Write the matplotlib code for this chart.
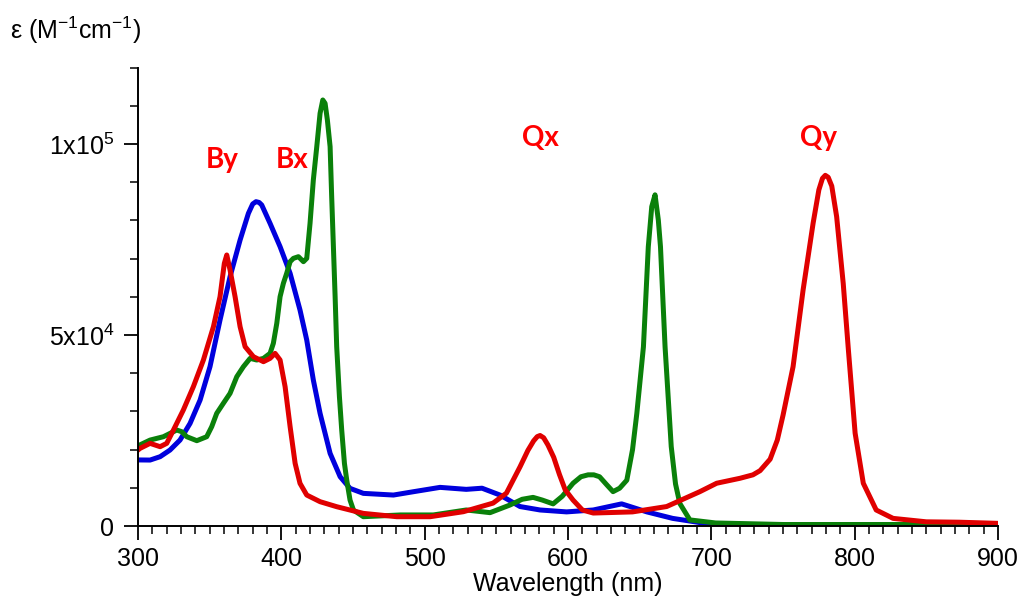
import matplotlib
matplotlib.use("Agg")
import matplotlib.pyplot as plt
import matplotlib.ticker as ticker

plt.rcParams['font.family'] = ['Liberation Sans', 'DejaVu Sans']
plt.rcParams['mathtext.fontset'] = 'custom'
plt.rcParams['mathtext.rm'] = 'Liberation Sans'
plt.rcParams['mathtext.it'] = 'Liberation Sans'

# blue spectrum (nm, M-1 cm-1)
blue_wl = [300, 308.4, 315.4, 322.3, 329.3, 336.3, 343.3, 350.2, 357.2, 364.2,
           371.2, 377.0, 380.0, 382.3, 384.5, 386.3, 392.1, 399.1, 406.1, 413.0,
           417.7, 422.3, 427.0, 434.0, 441.0, 447.9, 457.2, 478.2, 492.1, 510.7,
           529, 540, 552.6, 566.5, 580.5, 599, 617.6, 637.4, 655, 673, 692, 703,
           750, 800, 850, 900]
blue_eps = [17300, 17270, 18150, 19890, 22510, 26870, 32980, 41710, 53930, 65270,
            74870, 81850, 84300, 84910, 84700, 84040, 79240, 73130, 66150, 56550,
            48690, 38220, 29500, 19020, 12910, 9860, 8550, 8110, 8980, 10120,
            9600, 9900, 8100, 5100, 4200, 3700, 4200, 5800, 3700, 2000, 900, 500,
            300, 300, 300, 300]

# green spectrum
green_wl = [300, 308.4, 317.7, 327.0, 330.5, 334.0, 341.0, 347.9, 351.4, 354.9,
            359.5, 364.2, 368.9, 373.5, 378.2, 382.8, 387.5, 392.1, 394.4, 396.8,
            399.1, 401.4, 403.7, 406.1, 408.4, 411.9, 415.4, 417.7, 420.0, 422.3,
            424.7, 427.0, 428.9, 430.5, 432.1, 434.0, 435.1, 436.3, 437.5, 438.6,
            440.5, 442.1, 444.0, 445.6, 447.9, 450.3, 457.2, 483, 506, 529, 545.6,
            559.5, 568, 575.6, 582, 589.6, 596, 603.5, 609, 614, 618, 622, 627,
            631.4, 636, 641, 645, 648, 652.6, 656, 658.4, 660.7, 663, 664.5, 667.7,
            672, 675, 678, 685, 703, 750, 800, 900]
green_eps = [21000, 22500, 23380, 25130, 24690, 23380, 22340, 23380, 26000, 29500,
             32110, 34730, 39090, 41710, 43890, 43460, 43890, 45200, 47820, 53060,
             60040, 63530, 66150, 69200, 70070, 70510, 69200, 70070, 79240, 90580,
             99310, 108040, 111530, 110650, 106290, 99310, 86220, 73130, 60040, 46950,
             33860, 25130, 16400, 12040, 6800, 4180, 2440, 2900, 2900, 4200, 3500,
             5500, 7000, 7500, 6800, 5800, 7800, 11200, 12900, 13400, 13400, 12900,
             10800, 9000, 9900, 12000, 20000, 29500, 46900, 73100, 83600, 86700,
             80100, 73100, 46900, 20800, 11000, 5900, 1600, 800, 400, 400, 400]

# red spectrum
red_wl = [300, 301.4, 308.4, 315.4, 320.0, 324.7, 331.6, 338.6, 345.6, 352.6,
          357.2, 360.2, 361.9, 364.2, 367.7, 371.2, 374.7, 380.5, 387.5, 392.1,
          395.6, 399.1, 402.6, 406.1, 409.6, 413.0, 417.7, 427.0, 438.6, 457.2,
          480.5, 503.8, 527.0, 547.7, 557, 566.5, 572, 576, 578.5, 580.5, 583,
          586, 590, 594, 598, 603.5, 610, 617.6, 645, 668.8, 692, 703.7, 720,
          729, 734, 741, 746, 750, 757, 764, 771, 775, 777.5, 779.5, 781.5, 784,
          787.4, 792, 795.6, 800.3, 806, 815, 826.8, 850, 873, 900]
red_eps = [19900, 20330, 21640, 20770, 21640, 25130, 30370, 36480, 43460, 52180,
           60040, 68760, 70950, 67020, 60040, 52180, 46950, 44330, 43020, 43890,
           45200, 43460, 36480, 26000, 16400, 11170, 8110, 6370, 5060, 3310,
           2440, 2440, 3750, 6000, 8600, 15500, 19800, 22300, 23400, 23700, 23100,
           21200, 18000, 13500, 9500, 6800, 4200, 3400, 3700, 5100, 9000, 11200,
           12500, 13400, 14500, 17500, 22500, 29000, 41700, 61800, 79300, 88000,
           91000, 91800, 91300, 89000, 81000, 63500, 46100, 24300, 11200, 4200,
           2000, 1100, 1000, 700]

band_labels = ['By', 'Bx', 'Qx', 'Qy']
band_x = [358.6, 407.4, 580.5, 774.4]
band_y = [95800, 95800, 101600, 101600]

fig = plt.figure(figsize=(10.21, 6.07), dpi=100)
ax = fig.add_axes([0.1352, 0.1334, 0.8423, 0.7552])

ax.plot(blue_wl, blue_eps, color='#0000dd', lw=3.6, solid_joinstyle='round')
ax.plot(green_wl, green_eps, color='#0a800a', lw=3.6, solid_joinstyle='round')
ax.plot(red_wl, red_eps, color='#e00000', lw=3.6, solid_joinstyle='round')

for lab, x, y in zip(band_labels, band_x, band_y):
    ax.text(x, y, lab, color='#ff0000', fontsize=20, fontweight='bold',
            family=['Lato', 'DejaVu Sans'], ha='center', va='center')

ax.set_xlim(300, 900)
ax.set_ylim(0, 120000)
ax.spines['top'].set_visible(False)
ax.spines['right'].set_visible(False)
for s in ['left', 'bottom']:
    ax.spines[s].set_linewidth(1.4)

ax.xaxis.set_major_locator(ticker.MultipleLocator(100))
ax.xaxis.set_minor_locator(ticker.MultipleLocator(10))
ax.yaxis.set_major_locator(ticker.FixedLocator([0, 50000, 100000]))
ax.yaxis.set_minor_locator(ticker.MultipleLocator(10000))
ax.yaxis.set_major_formatter(ticker.FixedFormatter(['0', r'5x10$^4$', r'1x10$^5$']))

ax.tick_params(which='major', length=10, width=1.3, labelsize=18)
ax.tick_params(which='minor', length=5.5, width=1.1)
ax.tick_params(axis='x', which='major', pad=5)
ax.tick_params(axis='y', which='major', pad=7)

ax.set_xlabel('Wavelength (nm)', fontsize=18, labelpad=1)
fig.text(0.01, 0.95, r'ε (M$^{-1}$cm$^{-1}$)', fontsize=18, ha='left', va='center')

fig.savefig('out.png', dpi=100)
